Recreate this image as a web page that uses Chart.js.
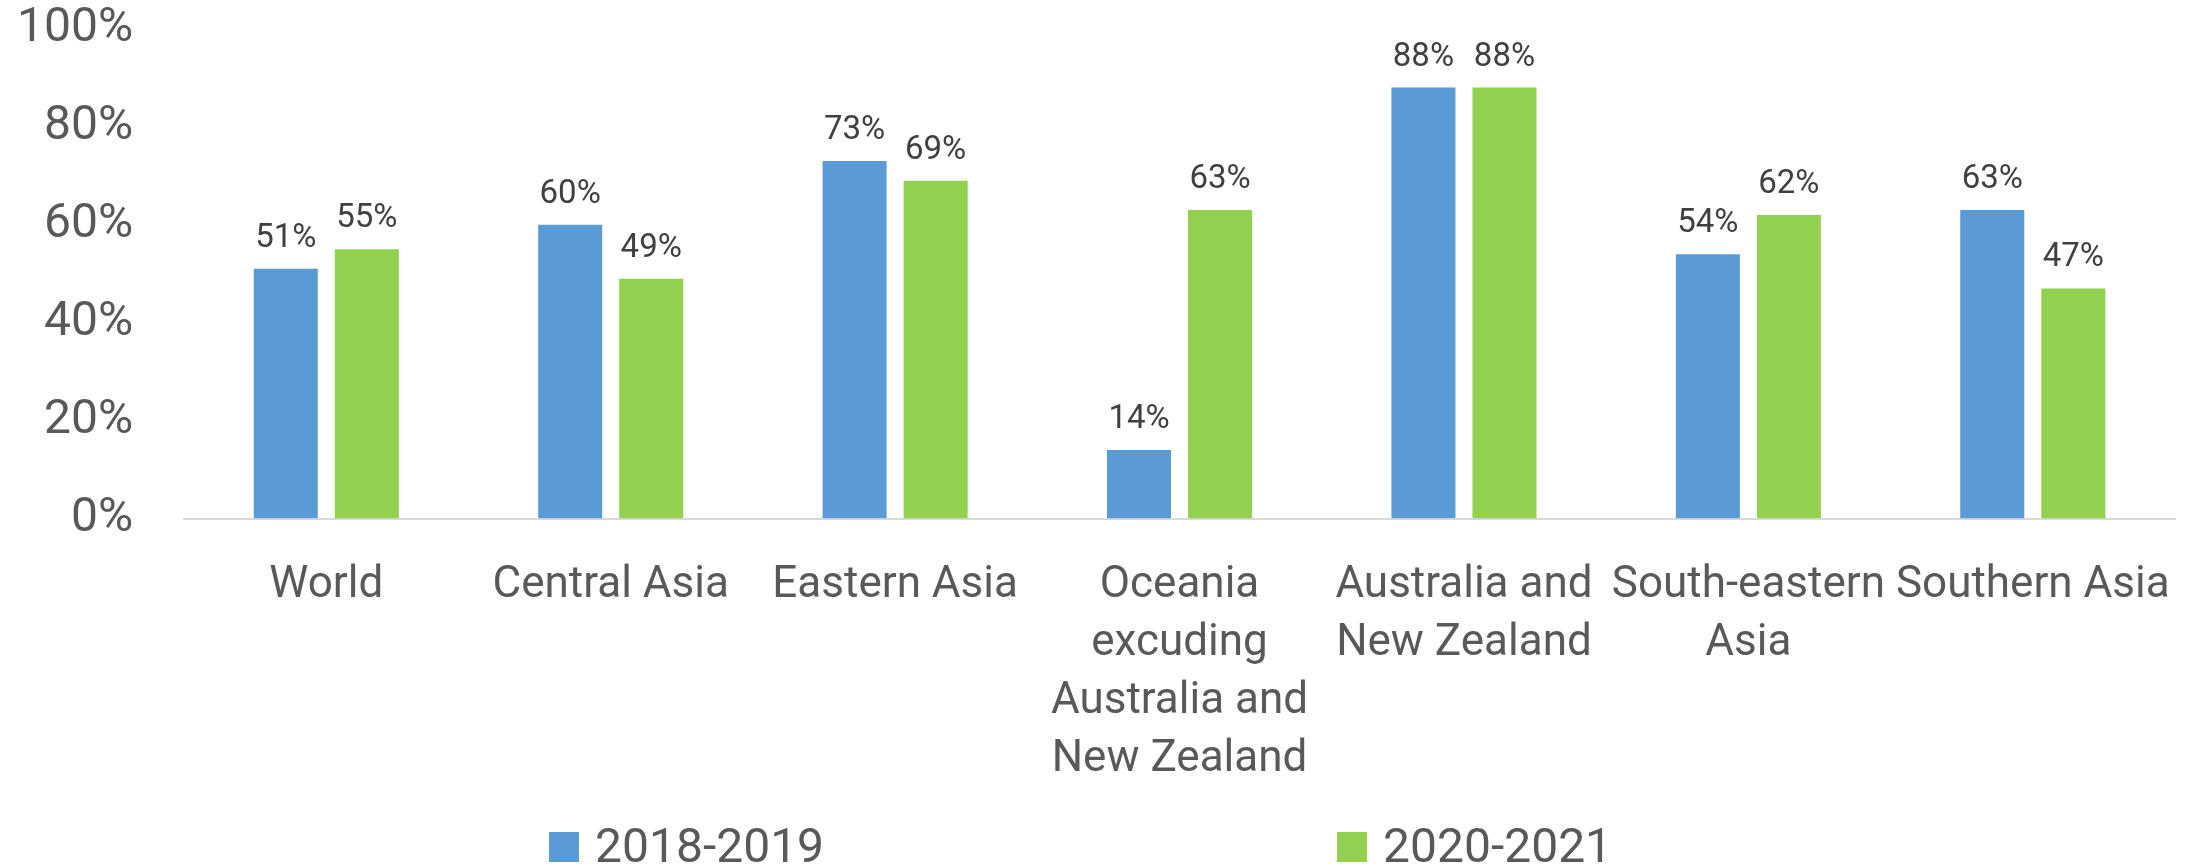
<!DOCTYPE html>
<html>
<head>
<meta charset="utf-8">
<script src="https://cdn.jsdelivr.net/npm/chart.js@4/dist/chart.umd.min.js"></script>
<style>
  html, body { margin: 0; padding: 0; background: #fff; }
  #wrap { width: 2195px; height: 867px; }
</style>
</head>
<body>
<div id="wrap"><canvas id="chart"></canvas></div>
<script>
const regions = [
  'World',
  'Central Asia',
  'Eastern Asia',
  ['Oceania', 'excuding', 'Australia and', 'New Zealand'],
  ['Australia and', 'New Zealand'],
  ['South-eastern', 'Asia'],
  'Southern Asia'
]

const period2018 = [51, 60, 73, 14, 88, 54, 63]
const period2020 = [55, 49, 69, 63, 88, 62, 47]

const seriesNames = ['2018-2019', '2020-2021']
const seriesColors = ['#5B9BD5', '#92D050']

const FONT = "Roboto, 'Liberation Sans', sans-serif"

// labels above each bar, placed from the bar elements
const barLabels = {
  id: 'barLabels',
  afterDatasetsDraw(chart) {
    const { ctx } = chart
    ctx.save()
    ctx.font = `33px ${FONT}`
    ctx.fillStyle = '#404040'
    ctx.textAlign = 'center'
    ctx.textBaseline = 'alphabetic'
    chart.data.datasets.forEach((ds, i) => {
      chart.getDatasetMeta(i).data.forEach((bar, j) => {
        ctx.fillText(ds.data[j] + '%', bar.x, bar.y - 22)
      })
    })
    ctx.restore()
  }
}

// spread-out legend under the axis (excel style)
const wideLegend = {
  id: 'wideLegend',
  afterDraw(chart, args, opts) {
    const { ctx } = chart
    ctx.save()
    ctx.font = `48px ${FONT}`
    ctx.textBaseline = 'alphabetic'
    ctx.textAlign = 'left'
    chart.data.datasets.forEach((ds, i) => {
      const x = opts.starts[i]
      ctx.fillStyle = ds.backgroundColor
      ctx.fillRect(x, opts.baseline - 30, 30, 30)
      ctx.fillStyle = '#595959'
      ctx.fillText(ds.label, x + 46, opts.baseline)
    })
    ctx.restore()
  }
}

// invisible tick marks give the label gap without extra top/side padding
const hiddenTicks = { display: true, drawOnChartArea: false, drawTicks: true, color: 'rgba(0,0,0,0)' }

new Chart(document.getElementById('chart'), {
  type: 'bar',
  data: {
    labels: regions,
    datasets: seriesNames.map((name, i) => ({
      label: name,
      data: i === 0 ? period2018 : period2020,
      backgroundColor: seriesColors[i],
      categoryPercentage: 0.57,
      barPercentage: 0.79
    }))
  },
  options: {
    responsive: true,
    maintainAspectRatio: false,
    animation: false,
    layout: { padding: { left: 17, right: 20, top: 2, bottom: 78 } },
    plugins: {
      legend: { display: false },
      tooltip: { enabled: false },
      wideLegend: { starts: [549, 1337], baseline: 862 }
    },
    scales: {
      x: {
        grid: { ...hiddenTicks, tickLength: 38 },
        border: { color: '#D9D9D9', width: 2 },
        ticks: {
          autoSkip: false,
          maxRotation: 0,
          padding: 0,
          color: '#595959',
          font: { family: FONT, size: 44, lineHeight: 1.32 }
        }
      },
      y: {
        min: 0,
        max: 100,
        grid: { ...hiddenTicks, tickLength: 51 },
        border: { display: false },
        ticks: {
          stepSize: 20,
          padding: 0,
          color: '#595959',
          font: { family: FONT, size: 48 },
          callback: v => v + '%'
        }
      }
    }
  },
  plugins: [barLabels, wideLegend]
})
</script>
</body>
</html>
